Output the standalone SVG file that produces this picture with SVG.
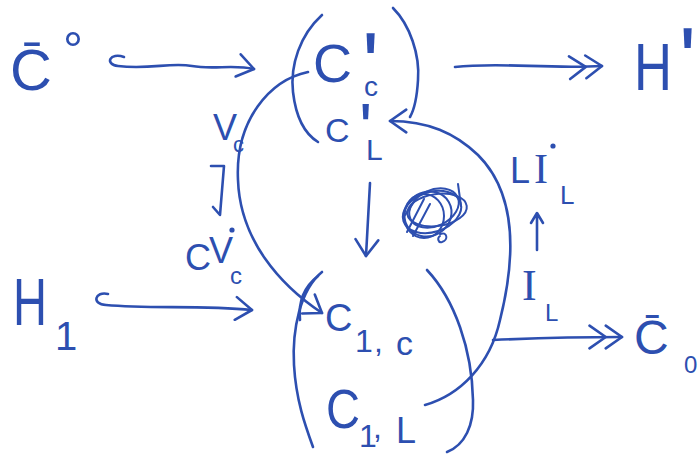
<svg xmlns="http://www.w3.org/2000/svg" width="699" height="469" viewBox="0 0 699 469">
<style>
  .ink { fill: none; stroke: #2d4fb0; stroke-width: 2.6; stroke-linecap: round; stroke-linejoin: round; }
  .thin { stroke-width: 2; }
  .t { font-family: "Liberation Sans", Arial, sans-serif; fill: #2d4fb0; }
  .s { font-family: "Liberation Serif", "Times New Roman", serif; fill: #2d4fb0; }
  .dot { fill: #2d4fb0; }
</style>
<defs>
  <marker id="open" viewBox="0 0 12 16" refX="11" refY="8" markerWidth="20" markerHeight="26" markerUnits="userSpaceOnUse" orient="auto">
    <path d="M1,1 L11,8 L1,15" fill="none" stroke="#2d4fb0" stroke-width="1.6" stroke-linecap="round" stroke-linejoin="round"/>
  </marker>
  <marker id="double" viewBox="0 0 22 16" refX="21" refY="8" markerWidth="36" markerHeight="26" markerUnits="userSpaceOnUse" orient="auto">
    <path d="M1,1 L11,8 L1,15 M11,1 L21,8 L11,15" fill="none" stroke="#2d4fb0" stroke-width="1.6" stroke-linecap="round" stroke-linejoin="round"/>
  </marker>
</defs>
<rect width="699" height="469" fill="#ffffff"/>

<g id="node-C0bar-in">
  <text class="t" font-size="58" x="10" y="90">C&#x304;<tspan x="63" y="67" font-size="50">°</tspan></text>
</g>

<g id="node-H-out">
  <text class="t" font-size="66" x="634" y="90"><tspan textLength="38" lengthAdjust="spacingAndGlyphs">H</tspan><tspan x="679" y="91" font-size="90">'</tspan></text>
</g>

<g id="node-H1-in">
  <text class="t" font-size="66" x="13" y="325"><tspan textLength="34" lengthAdjust="spacingAndGlyphs">H</tspan><tspan x="55" y="350" font-size="40">1</tspan></text>
</g>

<g id="node-C0bar-out">
  <text class="t" font-size="48" x="634" y="354">C&#x304;<tspan x="684" y="373" font-size="24">0</tspan></text>
</g>

<g id="node-primed">
  <path class="ink" d="M322,15 C300,35 290,65 293,92 C296,118 305,134 318,142"/>
  <path class="ink" d="M393,8 C410,25 420,55 418,80 C417,97 414,110 410,117"/>
  <text class="t" font-size="54" x="313" y="82">C<tspan x="362" y="96" font-size="90">'</tspan><tspan x="364" y="96" font-size="28">c</tspan></text>
  <text class="t" font-size="34" x="325" y="142">C<tspan x="359" y="153" font-size="70">'</tspan><tspan x="366" y="160" font-size="30">L</tspan></text>
</g>

<g id="node-one">
  <path class="ink" d="M322,272 C300,290 292,330 294,365 C296,400 305,425 313,447"/>
  <path class="ink" d="M318,276 C305,286 298,300 300,320"/>
  <path class="ink" d="M427,270 C455,300 472,350 473,400 C474,425 465,445 447,452"/>
  <text class="t" font-size="38" x="325" y="331">C<tspan x="355" y="352" font-size="32">1</tspan><tspan x="374" y="352" font-size="32">,</tspan><tspan x="396" y="355" font-size="34">c</tspan></text>
  <text class="t" font-size="56" x="326" y="428"><tspan textLength="34" lengthAdjust="spacingAndGlyphs">C</tspan><tspan x="359" y="447" font-size="32">1</tspan><tspan x="373" y="438" font-size="32">,</tspan><tspan x="396" y="443" font-size="36">L</tspan></text>
</g>

<g id="node-scribble">
  <ellipse class="ink thin" cx="432" cy="212" rx="30" ry="20" transform="rotate(-18 432 212)"/>
  <ellipse class="ink thin" cx="428" cy="214" rx="24" ry="22" transform="rotate(-30 428 214)"/>
  <ellipse class="ink thin" cx="437" cy="210" rx="30" ry="16" transform="rotate(-8 437 210)"/>
  <ellipse class="ink thin" cx="424" cy="216" rx="20" ry="22"/>
  <ellipse class="ink thin" cx="434" cy="208" rx="26" ry="18" transform="rotate(-25 434 208)"/>
  <path class="ink thin" d="M458,184 L461,206 M403,218 L418,196 M407,232 L424,199 M413,236 L430,204 M440,234 C447,231 449,240 442,242 C438,243 437,238 440,236"/>
</g>

<g id="label-Vc">
  <text class="t" font-size="36" x="213" y="140">V<tspan x="233" y="152" font-size="22">c</tspan></text>
  <path class="ink" d="M211,166 L224,166 L220,215 L213,207"/>
  <text class="t" font-size="36" x="185" y="270">C<tspan x="209" y="263">V</tspan><tspan x="230" y="284" font-size="24">c</tspan></text>
  <circle class="dot" cx="232" cy="230" r="2.6"/>
</g>

<g id="label-IL">
  <text class="t" font-size="36" x="510" y="183">L<tspan x="534" y="183" font-size="42" class="s">I</tspan><tspan x="560" y="204" font-size="26">L</tspan></text>
  <circle class="dot" cx="553" cy="146" r="2.6"/>
  <path class="ink" d="M537,250 L537,215 M531,223 L537,213 L543,223"/>
  <text class="s" font-size="44" x="522" y="300">I<tspan x="545" y="321" font-size="24" class="t">L</tspan></text>
</g>

<g id="connectors">
  <path class="ink" d="M124,57 C110,52 104,64 118,66 C150,70 170,62 192,66 C214,70 232,64 254,69" marker-end="url(#open)"/>
  <path class="ink" d="M108,294 C95,291 91,304 106,305 C150,309 200,305 252,310" marker-end="url(#open)"/>
  <path class="ink" d="M455,67 C500,62 545,69 602,66" marker-end="url(#double)"/>
  <path class="ink" d="M493,340 C540,338 580,337 622,337" marker-end="url(#double)"/>
  <path class="ink" d="M308,72 C270,80 235,120 238,180 C240,240 280,285 322,313" marker-end="url(#open)"/>
  <path class="ink" d="M425,405 C460,395 490,365 500,320 C515,260 518,195 478,155 C455,133 428,121 390,121" marker-end="url(#open)"/>
  <path class="ink" d="M370,183 L366,256" marker-end="url(#open)"/>
</g>
</svg>
